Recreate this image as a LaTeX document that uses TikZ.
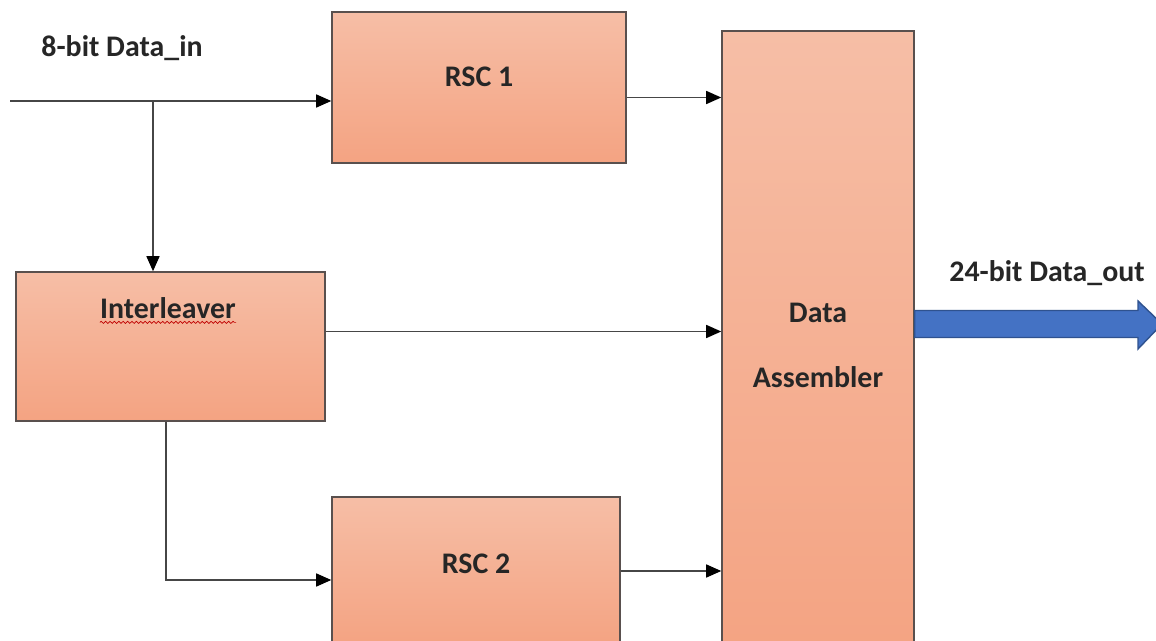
\documentclass[tikz,border=0pt]{standalone}
\usepackage{fontspec}
\setmainfont{Carlito}
\usetikzlibrary{calc,positioning,arrows.meta,decorations.pathmorphing}
\definecolor{boxtop}{RGB}{246,190,166}
\definecolor{boxbot}{RGB}{244,163,130}
\definecolor{boxline}{RGB}{89,80,78}
\definecolor{wire}{RGB}{70,70,70}
\definecolor{busblue}{RGB}{68,114,196}
\definecolor{busline}{RGB}{47,82,143}
\tikzset{
>={Triangle[length=0.3cm,width=0.26cm,color=black]},
  block/.style={
    rectangle,
    draw=boxline, line width=0.9pt,
    top color=boxtop,
    bottom color=boxbot,
    font=\fontsize{17}{20}\selectfont\bfseries,
    text=black!85,
    align=center},
  labeltext/.style={
    font=\fontsize{17}{20}\selectfont\bfseries,
    text=black!85,
    inner xsep=0pt},
  line/.style={draw=wire, line width=0.8pt, ->},
  bus/.style={fill=busblue, draw=busline, line width=0.8pt},
  squiggle/.style={draw=red!75!black, line width=0.4pt, decorate,
    decoration={snake, amplitude=0.6pt, segment length=2.5pt}},
}
\begin{document}
\begin{tikzpicture}[x=0.02cm, y=-0.02cm]
		\clip (0,0) rectangle (1156,641);
		\fill[white] (0,0) rectangle (1156,641);
		% blocks
		\node[block, minimum width=5.88cm, minimum height=3.02cm, text depth=12pt] (rsc1) at (479,87.5) {RSC 1};
		\node[block, minimum width=6.18cm, minimum height=2.98cm] (intl) at (170.5,346.5) {};
		\node[block, minimum width=5.76cm, minimum height=2.96cm, text depth=8pt] (rsc2) at (476,571) {RSC 2};
		\node[block, minimum width=3.84cm, minimum height=12.58cm] (da) at (818,345.5) {Data\\[17pt]Assembler};
		\node[labeltext] (intltxt) at (168,308) {Interleaver};
		\draw[squiggle] ($(intltxt.base west)+(0,4)$) -- ($(intltxt.base east)+(0,4)$);
		% texts
		\node[labeltext] (din) at (122,48) {8-bit Data\_in};
		\node[labeltext] (dout) at (1047,273) {24-bit Data\_out};
		% connectors
		\coordinate (in) at (10,101);
		\coordinate (split) at (153,101);
		\coordinate (turn) at (166,580);
		\coordinate (outtip) at (1162,324);
		\draw[line] (in) -- (in -| rsc1.west);
		\draw[line] (split) -- (split |- intl.north);
		\draw[line] ($(rsc1.east)+(0,10)$) -- ($(rsc1.east -| da.west)+(0,10)$);
		\draw[line] ($(intl.east)+(0,-15)$) -- ($(intl.east -| da.west)+(0,-15)$);
		\draw[line] (rsc2.east) -- (rsc2.east -| da.west);
		\draw[line] (intl.south -| turn) -- (turn) -- (turn -| rsc2.west);
		\draw[bus] ($(da.east |- outtip)+(0,-13.5)$) -- ($(outtip)+(-24,-13.5)$)
			-- ($(outtip)+(-24,-23)$) -- (outtip) -- ($(outtip)+(-24,25)$)
			-- ($(outtip)+(-24,13.5)$) -- ($(da.east |- outtip)+(0,13.5)$) -- cycle;
	\end{tikzpicture}
\end{document}
